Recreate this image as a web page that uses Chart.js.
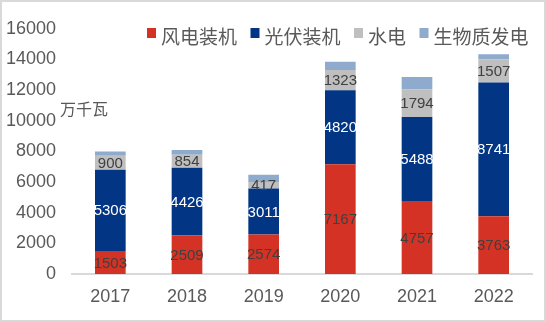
<!DOCTYPE html>
<html>
<head>
<meta charset="utf-8">
<script src="https://cdn.jsdelivr.net/npm/chart.js@4"></script>
<style>
  html, body { margin: 0; padding: 0; background: #fff; }
  .frame { width: 546px; height: 322px; box-sizing: border-box; border: 2px solid #d9d9d9; background: #fff; }
  canvas { display: block; }
</style>
</head>
<body>
<div class="frame">
  <canvas id="chart" width="542" height="318"></canvas>
</div>
<script>
// data (万千瓦)
const years = ['2017', '2018', '2019', '2020', '2021', '2022'];
const wind = [1503, 2509, 2574, 7167, 4757, 3763];
const solar = [5306, 4426, 3011, 4820, 5488, 8741];
const hydro = [900, 854, 417, 1323, 1794, 1507];
const biomass = [280, 305, 473, 543, 808, 334];
const seriesNames = ['风电装机', '光伏装机', '水电', '生物质发电'];
const seriesColors = ['#d43225', '#023685', '#bfbfbf', '#8eaacc'];
const labelColors = ['#404040', '#ffffff', '#404040', null];
const yMax = 16000;
const yStep = 2000;

const FONT = "'Liberation Sans', Arial, 'Noto Sans CJK SC', sans-serif";
const CJK = "'Noto Sans CJK SC', 'Liberation Sans', sans-serif";

// value labels centred in each segment
const segmentLabels = {
  id: 'segmentLabels',
  afterDatasetsDraw(chart) {
    const ctx = chart.ctx;
    ctx.save();
    ctx.font = '15px ' + FONT;
    ctx.textAlign = 'center';
    ctx.textBaseline = 'middle';
    chart.data.datasets.forEach((ds, i) => {
      if (!labelColors[i]) return;
      const meta = chart.getDatasetMeta(i);
      ctx.fillStyle = labelColors[i];
      meta.data.forEach((bar, j) => {
        const y = (bar.y + bar.base) / 2;
        ctx.fillText(String(ds.data[j]), bar.x, y + 1);
      });
    });
    ctx.restore();
  }
};

// legend in the top right and the unit text
const extras = {
  id: 'extras',
  afterDraw(chart) {
    const ctx = chart.ctx;
    ctx.save();
    ctx.font = '19px ' + CJK;
    ctx.textBaseline = 'middle';
    let x = 145;
    const y = 35;
    seriesNames.forEach((name, i) => {
      ctx.fillStyle = seriesColors[i];
      ctx.fillRect(x, y - 9, 9, 10);
      x += 14;
      ctx.fillStyle = '#595959';
      ctx.fillText(name, x, y);
      x += ctx.measureText(name).width + 13.5;
    });

    ctx.font = '16px ' + CJK;
    ctx.fillText('万千瓦', 58, 107);
    ctx.restore();
  }
};

new Chart(document.getElementById('chart'), {
  type: 'bar',
  data: {
    labels: years,
    datasets: [
      { label: seriesNames[0], data: wind, backgroundColor: seriesColors[0] },
      { label: seriesNames[1], data: solar, backgroundColor: seriesColors[1] },
      { label: seriesNames[2], data: hydro, backgroundColor: seriesColors[2] },
      { label: seriesNames[3], data: biomass, backgroundColor: seriesColors[3] }
    ]
  },
  options: {
    responsive: false,
    animation: false,
    layout: { padding: { left: 0, right: 12, top: 14, bottom: 0 } },
    datasets: {
      bar: { categoryPercentage: 1, barPercentage: 0.4, borderWidth: 0 }
    },
    plugins: {
      legend: { display: false },
      tooltip: { enabled: false }
    },
    scales: {
      x: {
        stacked: true,
        grid: { display: false, drawTicks: false },
        border: { display: true, color: '#d9d9d9', width: 2 },
        ticks: { color: '#595959', font: { size: 18, family: FONT }, padding: 12 },
        afterFit: (scale) => { scale.height = 46; }
      },
      y: {
        stacked: true,
        min: 0,
        max: yMax,
        grid: { display: false, drawTicks: false },
        border: { display: false },
        ticks: {
          stepSize: yStep,
          color: '#595959',
          font: { size: 18, family: FONT },
          padding: 16,
          callback: (value) => String(value)
        },
        afterFit: (scale) => { scale.width = 70; }
      }
    }
  },
  plugins: [segmentLabels, extras]
});
</script>
</body>
</html>
